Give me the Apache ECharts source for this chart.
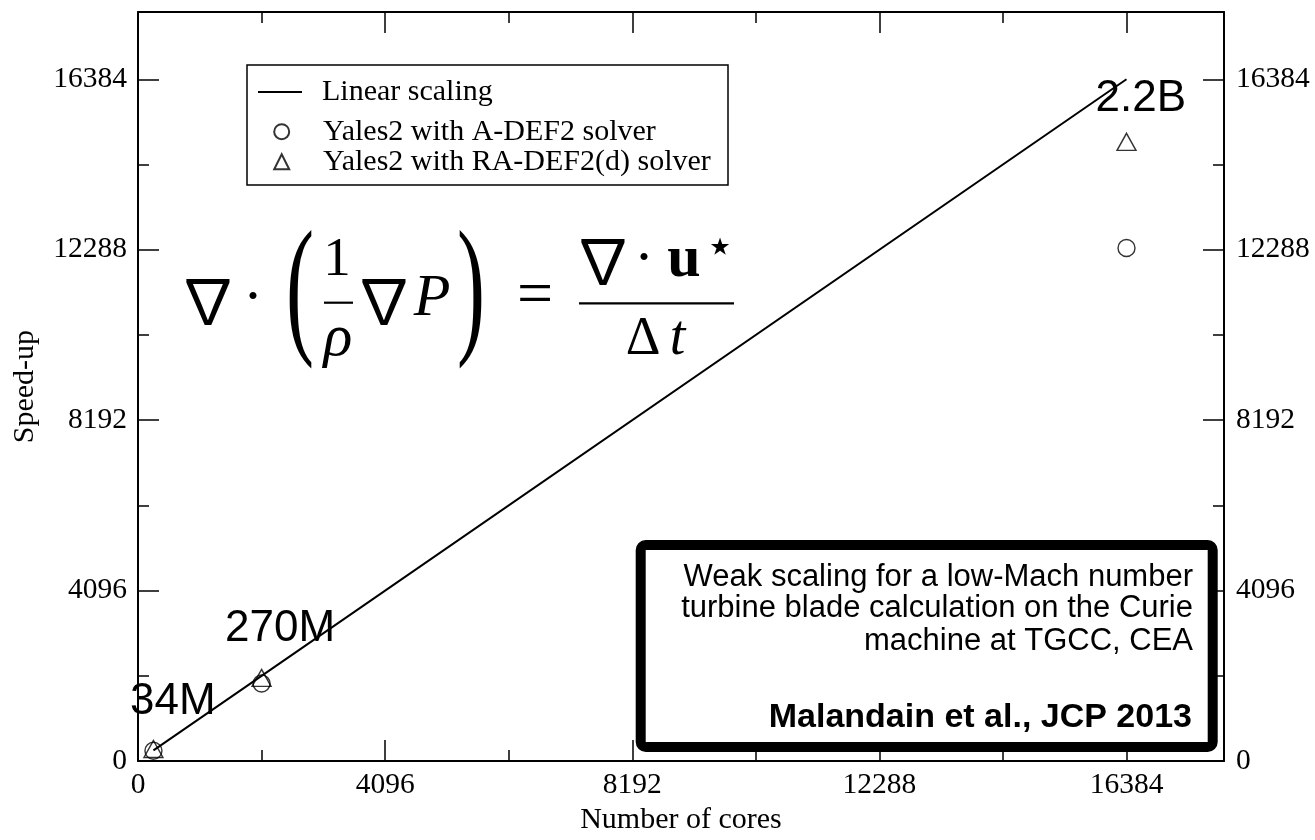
<!DOCTYPE html>
<html>
<head>
<meta charset="utf-8">
<title>Weak scaling – Yales2</title>
<script src="https://cdn.jsdelivr.net/npm/echarts@6/dist/echarts.min.js"></script>
<style>
  html, body { margin: 0; padding: 0; background: #fff; }
  #chart { width: 1315px; height: 840px; }
</style>
</head>
<body>
<div id="chart"></div>
<script>
// Core counts of the three runs and the measured speed-ups
const coreCounts = [256, 2048, 16384];
const linearSpeedup = [256, 2048, 16384];
const adef2Speedup = [250, 1865, 12330];
const radef2dSpeedup = [290, 2000, 14880];
// Mesh size of each run
const meshSizes = ['34M', '270M', '2.2B'];
// Axis ticks
const majorTicks = [0, 4096, 8192, 12288, 16384];
const minorTicks = [2048, 6144, 10240, 14336];
const axisMax = 18000;
const seriesNames = ['Linear scaling', 'Yales2 with A-DEF2 solver', 'Yales2 with RA-DEF2(d) solver'];
const noteLines = ['Weak scaling for a low-Mach number', 'turbine blade calculation on the Curie', 'machine at TGCC, CEA'];
const noteCitation = 'Malandain et al., JCP 2013';

const SERIF = "'Liberation Serif', 'Times New Roman', serif";
const SANS = "'Liberation Sans', Arial, sans-serif";
const NABLA = "'Noto Sans CJK JP', 'DejaVu Serif', serif";

const points = ys => coreCounts.map((c, i) => [c, ys[i]]);

function makeAxis(position, ticks, tickLen, withLine, labelMargin, extra) {
  return Object.assign({
    type: 'value',
    position: position,
    min: 0,
    max: axisMax,
    splitLine: { show: false },
    axisLine: { show: withLine, onZero: false, lineStyle: { color: '#000', width: 2 } },
    axisTick: { show: true, inside: true, length: tickLen, customValues: ticks,
                lineStyle: { color: '#000', width: 1.5 } },
    axisLabel: labelMargin == null ? { show: false } : {
      show: true, customValues: ticks, formatter: v => String(v),
      color: '#000', fontFamily: SERIF, fontSize: 29.5, margin: labelMargin
    }
  }, extra || {});
}

const chart = echarts.init(document.getElementById('chart'), null, { renderer: 'canvas' });

const legendText = { color: '#000', fontFamily: SERIF, fontSize: 30, lineHeight: 30 };

const option = {
  animation: false,
  backgroundColor: '#fff',
  grid: { left: 138, top: 12, width: 1086, height: 760, containLabel: false },
  xAxis: [
    makeAxis('bottom', majorTicks, 21, true, 9, {
      name: 'Number of cores', nameLocation: 'middle', nameGap: 41,
      nameTextStyle: { color: '#000', fontFamily: SERIF, fontSize: 30 }
    }),
    makeAxis('bottom', minorTicks, 11, false, null),
    makeAxis('top', majorTicks, 21, true, null),
    makeAxis('top', minorTicks, 11, false, null)
  ],
  yAxis: [
    makeAxis('left', majorTicks, 21, true, 11, {
      name: 'Speed-up', nameLocation: 'middle', nameGap: 98, nameRotate: 90,
      nameTextStyle: { color: '#000', fontFamily: SERIF, fontSize: 30 }
    }),
    makeAxis('left', minorTicks, 11, false, null),
    makeAxis('right', majorTicks, 21, true, 12),
    makeAxis('right', minorTicks, 11, false, null)
  ],
  legend: [
    {
      data: [{ name: seriesNames[0], icon: 'rect' }],
      left: 258, top: 77, padding: 0,
      itemWidth: 44, itemHeight: 2, itemGap: 0,
      orient: 'vertical',
      textStyle: Object.assign({ padding: [0, 0, 0, 15] }, legendText)
    },
    {
      data: [seriesNames[1], seriesNames[2]],
      left: 273.2, top: 116.7, padding: 0,
      itemWidth: 15, itemHeight: 15, itemGap: 0,
      orient: 'vertical',
      textStyle: Object.assign({ padding: [0, 0, 0, 28.8] }, legendText)
    }
  ],
  series: [
    {
      name: seriesNames[0], type: 'line', xAxisIndex: 0, yAxisIndex: 0,
      data: points(linearSpeedup), symbol: 'none',
      lineStyle: { color: '#000', width: 2 }, itemStyle: { color: '#000' },
      z: 2
    },
    {
      name: seriesNames[1], type: 'scatter', xAxisIndex: 0, yAxisIndex: 0,
      data: points(adef2Speedup), symbol: 'circle', symbolSize: 17,
      itemStyle: { color: 'rgba(255,255,255,0)', borderColor: '#000', borderWidth: 1.4 },
      z: 3
    },
    {
      name: seriesNames[2], type: 'scatter', xAxisIndex: 0, yAxisIndex: 0,
      data: points(radef2dSpeedup), symbol: 'triangle', symbolSize: [19, 17],
      itemStyle: { color: 'rgba(255,255,255,0)', borderColor: '#000', borderWidth: 1.4 },
      z: 3
    }
  ]
};

chart.setOption(option);

// ---------- overlay text: equation, legend frame, note box, mesh sizes ----------
const K_MID = 0.34; // distance from alphabetic baseline to canvas 'middle', in em

function glyph(text, cx, baseline, size, family, extra) {
  const st = Object.assign({
    text: text, fontSize: size, fontFamily: family, fill: '#000',
    align: 'center', verticalAlign: 'middle'
  }, (extra && extra.style) || {});
  return Object.assign({
    type: 'text', x: cx, y: baseline - K_MID * size, z: 20, silent: true, style: st
  }, extra && extra.el || {});
}

const eqSize = 60;
const equation = [
  glyph('\u2207', 208, 322, 62, NABLA),
  glyph('\u00B7', 253, 320, eqSize, SERIF),
  glyph('(', 300, 348, 153, SERIF, { el: { scaleX: 0.55 } }),
  glyph('1', 337, 279, 55, SERIF),
  glyph('\u03C1', 338, 360, eqSize, SERIF, { style: { fontStyle: 'italic' } }),
  glyph('\u2207', 384, 322, 62, NABLA),
  glyph('P', 432, 320, eqSize, SERIF, { style: { fontStyle: 'italic' } }),
  glyph(')', 471, 348, 153, SERIF, { el: { scaleX: 0.55 } }),
  glyph('=', 535, 318.5, 64, SERIF),
  glyph('\u2207', 603, 282, 62, NABLA),
  glyph('\u00B7', 644, 281, eqSize, SERIF),
  glyph('u', 684, 281, eqSize, SERIF, { style: { fontWeight: 'bold' } }),
  glyph('\u22C6', 720, 266, 48, "'DejaVu Sans', sans-serif"),
  glyph('\u0394', 643, 358, 54, SERIF),
  glyph('t', 677.5, 358, 56, SERIF, { style: { fontStyle: 'italic' } }),
  { type: 'line', z: 20, silent: true, shape: { x1: 324, y1: 302.7, x2: 353, y2: 302.7 },
    style: { stroke: '#000', lineWidth: 2.2 } },
  { type: 'line', z: 20, silent: true, shape: { x1: 579, y1: 303.3, x2: 734, y2: 303.3 },
    style: { stroke: '#000', lineWidth: 2.2 } }
];

const legendFrame = {
  type: 'rect', z: 5, silent: true,
  shape: { x: 247, y: 65, width: 481, height: 120 },
  style: { fill: 'none', stroke: '#000', lineWidth: 1.5 }
};

const noteBox = {
  type: 'rect', z: 10, silent: true,
  shape: { x: 640.7, y: 545, width: 572, height: 202, r: 5 },
  style: { fill: '#fff', stroke: '#000', lineWidth: 10 }
};
const noteText = noteLines.map((t, i) => ({
  type: 'text', z: 11, silent: true,
  x: 1193, y: [588.3, 619.6, 651.7][i] - 0.345 * 31,
  style: { text: t, fontFamily: SANS, fontSize: 31, fill: '#000', align: 'right', verticalAlign: 'middle' }
}));
noteText.push({
  type: 'text', z: 11, silent: true,
  x: 1192, y: 729.3 - 0.345 * 34,
  style: { text: noteCitation, fontFamily: SANS, fontSize: 34, fontWeight: 'bold', fill: '#000',
           align: 'right', verticalAlign: 'middle' }
});

// Mesh-size tags placed next to each run on the linear-scaling line
const tagOffsets = [[-23.4, -33.5], [-36.5, -32.2], [-31, 35]];
const meshTags = meshSizes.map((t, i) => {
  const p = chart.convertToPixel({ xAxisIndex: 0, yAxisIndex: 0 }, [coreCounts[i], linearSpeedup[i]]);
  const size = 44;
  return {
    type: 'text', z: 15, silent: true,
    x: p[0] + tagOffsets[i][0], y: p[1] + tagOffsets[i][1] - 0.345 * size,
    style: { text: t, fontFamily: SANS, fontSize: size, fill: '#000', align: 'left', verticalAlign: 'middle' }
  };
});

chart.setOption({ graphic: [legendFrame].concat(equation, [noteBox], noteText, meshTags) });
</script>
</body>
</html>
